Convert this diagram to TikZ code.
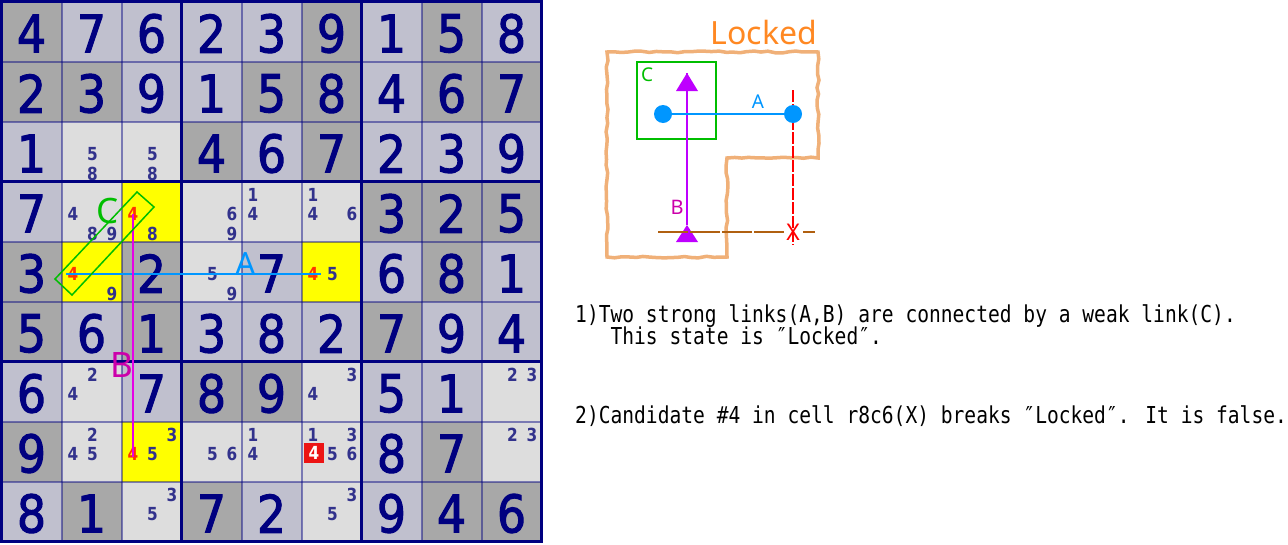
\documentclass[tikz,border=0pt]{standalone}
\usepackage{fontspec}
\usetikzlibrary{decorations.pathmorphing}
\newfontfamily\gfont{DejaVu Sans}[FakeStretch=0.88,FakeBold=2]
\newfontfamily\cfont{DejaVu Sans}[FakeStretch=0.85]
\newfontfamily\lfont{Noto Sans}
\newfontfamily\mfont{DejaVu Sans Mono}
\definecolor{navy}{RGB}{0,0,128}
\definecolor{darkc}{RGB}{168,168,168}
\definecolor{lightc}{RGB}{192,192,206}
\definecolor{palec}{RGB}{221,221,221}
\definecolor{yelc}{RGB}{255,255,0}
\definecolor{candc}{RGB}{50,50,140}
\definecolor{redc}{RGB}{255,51,0}
\definecolor{boxred}{RGB}{236,20,20}
\definecolor{linkA}{RGB}{0,150,255}
\definecolor{linkB}{RGB}{230,0,230}
\definecolor{labB}{RGB}{204,0,170}
\definecolor{greenC}{RGB}{0,190,0}
\definecolor{orangeL}{RGB}{255,136,34}
\definecolor{outlineL}{RGB}{240,176,120}
\definecolor{purpleB}{RGB}{190,0,255}
\definecolor{brownX}{RGB}{176,96,16}
\tikzset{
  given/.style={inner sep=0pt, text=navy, font=\gfont\fontsize{52}{52}\selectfont},
  cand/.style={inner sep=0pt, text=candc, font=\cfont\bfseries\fontsize{18}{18}\selectfont},
  redcand/.style={inner sep=0pt, text=redc, font=\cfont\bfseries\fontsize{18}{18}\selectfont},
  biglab/.style={inner sep=0pt, font=\lfont\fontsize{35}{35}\selectfont},
  smalllab/.style={inner sep=0pt, font=\lfont\fontsize{19}{19}\selectfont},
  txt/.style={inner sep=0pt, anchor=base west, text=black, font=\mfont\fontsize{23.3}{23.3}\selectfont},
  thin grid/.style={draw=navy, draw opacity=0.45, line width=2pt},
  thick grid/.style={draw=navy, line width=3pt},
  tri/.style={fill=purpleB},
}
\begin{document}
\begin{tikzpicture}[x=1pt,y=-1pt]
\fill[white] (0,0) rectangle (1288,544);
\useasboundingbox (0,0) rectangle (1288,544);
% given cells
\foreach \r/\c/\d/\t in {
 1/1/4/darkc,1/2/7/lightc,1/3/6/lightc,1/4/2/lightc,1/5/3/lightc,1/6/9/darkc,1/7/1/lightc,1/8/5/darkc,1/9/8/lightc,
 2/1/2/darkc,2/2/3/darkc,2/3/9/lightc,2/4/1/lightc,2/5/5/darkc,2/6/8/darkc,2/7/4/lightc,2/8/6/darkc,2/9/7/darkc,
 3/1/1/lightc,3/4/4/darkc,3/5/6/lightc,3/6/7/darkc,3/7/2/lightc,3/8/3/lightc,3/9/9/lightc,
 4/1/7/lightc,4/7/3/darkc,4/8/2/darkc,4/9/5/darkc,
 5/1/3/darkc,5/3/2/darkc,5/5/7/lightc,5/7/6/lightc,5/8/8/darkc,5/9/1/lightc,
 6/1/5/darkc,6/2/6/lightc,6/3/1/darkc,6/4/3/lightc,6/5/8/lightc,6/6/2/lightc,6/7/7/darkc,6/8/9/lightc,6/9/4/lightc,
 7/1/6/lightc,7/3/7/lightc,7/4/8/darkc,7/5/9/darkc,7/7/5/lightc,7/8/1/lightc,
 8/1/9/darkc,8/7/8/lightc,8/8/7/darkc,
 9/1/8/lightc,9/2/1/darkc,9/4/7/darkc,9/5/2/lightc,9/7/9/lightc,9/8/4/darkc,9/9/6/darkc}{
  \fill[\t] ({1.5+60*(\c-1)},{1.5+60*(\r-1)}) rectangle ++(60,60);
  \node[given] (g\r\c) at ({1.5+60*(\c-0.5)},{1.5+60*(\r-0.5)+2}) {\d};
}
% candidate cells
\foreach \r/\c/\t/\cands in {
 3/2/palec/{5,8}, 3/3/palec/{5,8}, 4/2/palec/{4,8,9}, 4/3/yelc/{8}, 4/4/palec/{6,9},
 4/5/palec/{1,4}, 4/6/palec/{1,4,6}, 5/2/yelc/{9}, 5/4/palec/{5,9}, 5/6/yelc/{5},
 7/2/palec/{2,4}, 7/6/palec/{3,4}, 7/9/palec/{2,3}, 8/2/palec/{2,4,5}, 8/3/yelc/{3,5},
 8/4/palec/{5,6}, 8/5/palec/{1,4}, 8/6/palec/{1,3,5,6}, 8/9/palec/{2,3},
 9/3/palec/{3,5}, 9/6/palec/{3,5}}{
  \fill[\t] ({1.5+60*(\c-1)},{1.5+60*(\r-1)}) rectangle ++(60,60);
  \foreach \d in \cands {
    \pgfmathtruncatemacro{\m}{mod(\d-1,3)}
    \pgfmathtruncatemacro{\n}{int((\d-1)/3)}
    \node[cand] (c\r\c\d) at ({1.5+60*(\c-1)+11.5+19.5*\m},{1.5+60*(\r-1)+13+19.5*\n}) {\d};
  }
}
% red candidates
\node[redcand] (n43) at (133,214) {4};
\node[redcand] (n52) at (73,274) {4};
\node[redcand] (n56) at (313,274) {4};
\node[redcand] (n83) at (133,454) {4};
\node[fill=boxred, minimum size=20pt, inner sep=0pt, text=white,
      font=\cfont\bfseries\fontsize{18}{18}\selectfont] (n86) at (314,453) {4};
% grid
\foreach \k in {1,2,4,5,7,8} {
  \draw[thin grid] ({1.5+60*\k},1.5) -- ({1.5+60*\k},541.5);
  \draw[thin grid] (1.5,{1.5+60*\k}) -- (541.5,{1.5+60*\k});
}
\foreach \k in {0,3,6,9} {
  \draw[thick grid] ({1.5+60*\k},0) -- ({1.5+60*\k},543);
  \draw[thick grid] (0,{1.5+60*\k}) -- (543,{1.5+60*\k});
}
% links on the grid
\draw[linkA, line width=2pt] ([xshift=-7pt]n52.center) -- ([xshift=8pt]n56.center);
\draw[linkB, line width=1.5pt] (n43.center) -- ([yshift=-3pt]n83.center);
\draw[greenC, line width=1.5pt] (137,192) -- (154,207) -- (72,295) -- (55,279) -- cycle;
\node[biglab, text=linkA, font=\lfont\fontsize{32}{32}\selectfont] (labA) at (246,264) {A};
\node[biglab, text=labB] (labB) at (122,365) {B};
\node[biglab, text=greenC] (labC) at (108,211) {C};
% right diagram
\pgfmathsetseed{7}
\draw[outlineL, line width=3.5pt, decorate, decoration={random steps, segment length=7pt, amplitude=1pt}]
  (607,52) -- (818,52) -- (818,158) -- (727,158) -- (727,257) -- (607,257) -- cycle;
\node[inner sep=0pt, text=orangeL, font=\lfont\fontsize{32}{32}\selectfont] (locked) at (764,32) {Locked};
\node[draw=greenC, line width=1.5pt, minimum width=79pt, minimum height=77pt, inner sep=0pt] (boxC) at (676.5,100.5) {};
\node[smalllab, text=greenC] (sC) at (647,75) {C};
\coordinate (tB) at (687,73);
\coordinate (bB) at (687,225);
\draw[purpleB, line width=1.5pt] (bB) -- (tB);
\fill[tri] (tB) -- ++(-11,18) -- ++(22,0) -- cycle;
\fill[tri] (bB) -- ++(-11,17) -- ++(22,0) -- cycle;
\node[smalllab, text=labB, font=\lfont\fontsize{20}{20}\selectfont] (sB) at (677,207) {B};
\coordinate (xTop) at (793,90);
\coordinate (xBot) at (793,245);
\draw[red, line width=1.2pt, dash pattern=on 12pt off 2pt] (xTop) -- (xBot);
\coordinate (hL) at (658,232);
\coordinate (hM1) at (785,232);
\coordinate (hM2) at (803,232);
\coordinate (hR) at (815,232);
\draw[brownX, line width=1.5pt, dash pattern=on 30pt off 2pt] (hL) -- (hM1);
\draw[brownX, line width=1.5pt] (hM2) -- (hR);
\node[inner sep=0pt, text=red, font=\lfont\fontsize{23}{23}\selectfont] (sX) at (793,232) {X};
\node[circle, fill=linkA, minimum size=18pt, inner sep=0pt] (dL) at (663,114) {};
\node[circle, fill=linkA, minimum size=18pt, inner sep=0pt] (dR) at (793,114) {};
\draw[linkA, line width=1.5pt] (dL) -- (dR);
\node[smalllab, text=linkA] (sA) at (758,102) {A};
% text
\node[txt] (t1) at (575,322) {\scalebox{0.841}[1]{1)Two strong links(A,B) are connected by a weak link(C).}};
\node[txt] (t2) at (610.4,344) {\scalebox{0.841}[1]{This state is ″Locked″.}};
\node[txt] (t3) at (575,423) {\scalebox{0.841}[1]{2)Candidate \#4 in cell r8c6(X) breaks ″Locked″. It is false.}};
\end{tikzpicture}
\end{document}
